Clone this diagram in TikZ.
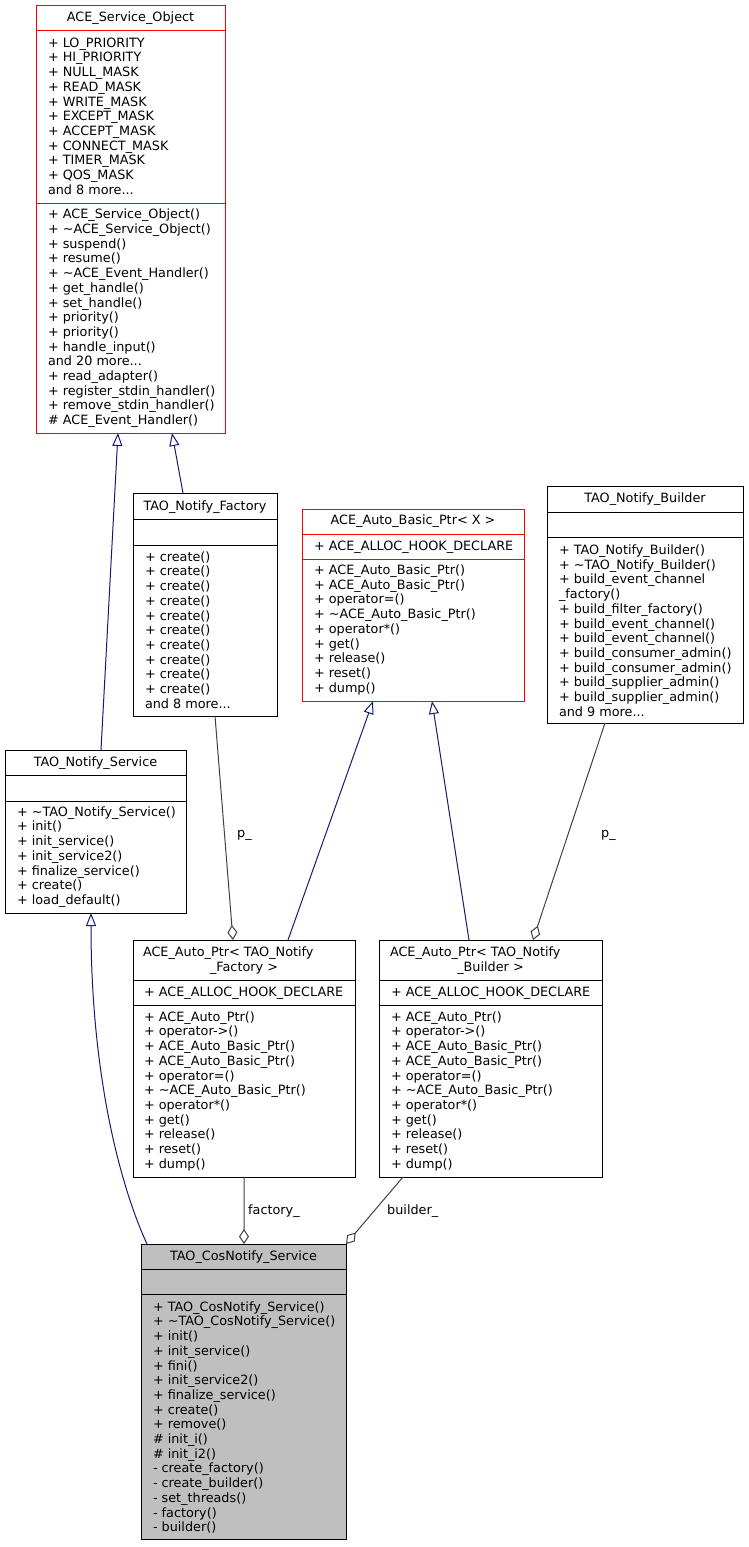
\documentclass[tikz,border=0pt]{standalone}
\usepackage{fontspec}
\setmainfont{DejaVu Sans}
\usetikzlibrary{arrows.meta,calc}
\newcommand\tld{\textasciitilde}
\newcommand\memfont{\fontsize{12.8bp}{14.7bp}\selectfont}
\newcommand\fl{\rule{0pt}{11bp}}
\definecolor{inhcol}{HTML}{191970}
\definecolor{compcol}{HTML}{404040}
\definecolor{grayfill}{HTML}{BFBFBF}
\definecolor{trunc}{HTML}{FF0000}
\tikzset{
  classbox/.style={draw=black, line width=1bp, inner sep=0pt, outer sep=0pt, anchor=north west},
  redbox/.style={classbox, draw=trunc},
  membs/.style={anchor=north west, inner sep=0pt, outer sep=0pt, align=left, font=\memfont},
  ttl/.style={anchor=base, inner sep=0pt, outer sep=0pt, font=\memfont},
  sepline/.style={line width=1bp},
  inh/.style={draw=inhcol, line width=1bp, -{Triangle[open, length=13bp, width=10bp, line width=1bp]}},
  comp/.style={draw=compcol, line width=1bp, -{Diamond[length=15bp, width=10bp, fill=white, line width=1bp]}},
  elabel/.style={anchor=base west, inner sep=0pt, font=\memfont}
}
\begin{document}
\begin{tikzpicture}[x=1bp,y=-1bp]
\useasboundingbox (0,0) rectangle (749,1547);

% ---------- ACE_Service_Object ----------
\node[redbox, minimum width=189bp, minimum height=427bp] (aso) at (36,6) {};
\draw[sepline, trunc] (36,31) -- (225,31);
\draw[sepline, trunc] (36,203) -- (225,203);
\node[ttl] (aso-t) at (130.5,22) {ACE\_Service\_Object};
\node[membs] (aso-a) at (48,36.2) {\fl + LO\_PRIORITY\\+ HI\_PRIORITY\\+ NULL\_MASK\\+ READ\_MASK\\+ WRITE\_MASK\\+ EXCEPT\_MASK\\+ ACCEPT\_MASK\\+ CONNECT\_MASK\\+ TIMER\_MASK\\+ QOS\_MASK\\and 8 more...};
\node[membs] (aso-m) at (48,207.8) {\fl + ACE\_Service\_Object()\\+ \tld ACE\_Service\_Object()\\+ suspend()\\+ resume()\\+ \tld ACE\_Event\_Handler()\\+ get\_handle()\\+ set\_handle()\\+ priority()\\+ priority()\\+ handle\_input()\\and 20 more...\\+ read\_adapter()\\+ register\_stdin\_handler()\\+ remove\_stdin\_handler()\\\# ACE\_Event\_Handler()};

% ---------- TAO_Notify_Factory ----------
\node[classbox, minimum width=144bp, minimum height=223bp] (fac) at (133,493) {};
\draw[sepline] (133,519) -- (277,519);
\draw[sepline] (133,545) -- (277,545);
\node[ttl] (fac-t) at (205,510.2) {TAO\_Notify\_Factory};
\node[membs] (fac-m) at (145,550.2) {\fl + create()\\+ create()\\+ create()\\+ create()\\+ create()\\+ create()\\+ create()\\+ create()\\+ create()\\+ create()\\and 8 more...};

% ---------- ACE_Auto_Basic_Ptr< X > ----------
\node[redbox, minimum width=222bp, minimum height=192bp] (abp) at (302,509) {};
\draw[sepline, trunc] (302,534) -- (524,534);
\draw[sepline, trunc] (302,559) -- (524,559);
\node[ttl] (abp-t) at (413,524.8) {ACE\_Auto\_Basic\_Ptr< X >};
\node[membs] (abp-a) at (314,539.2) {\fl + ACE\_ALLOC\_HOOK\_DECLARE};
\node[membs] (abp-m) at (314,563.5) {\fl + ACE\_Auto\_Basic\_Ptr()\\+ ACE\_Auto\_Basic\_Ptr()\\+ operator=()\\+ \tld ACE\_Auto\_Basic\_Ptr()\\+ operator*()\\+ get()\\+ release()\\+ reset()\\+ dump()};

% ---------- TAO_Notify_Builder ----------
\node[classbox, minimum width=196bp, minimum height=237bp] (bld) at (547,486) {};
\draw[sepline] (547,512) -- (743,512);
\draw[sepline] (547,537) -- (743,537);
\node[ttl] (bld-t) at (645,502.8) {TAO\_Notify\_Builder};
\node[membs] (bld-m) at (559,543.5) {\fl + TAO\_Notify\_Builder()\\+ \tld TAO\_Notify\_Builder()\\+ build\_event\_channel\\\_factory()\\+ build\_filter\_factory()\\+ build\_event\_channel()\\+ build\_event\_channel()\\+ build\_consumer\_admin()\\+ build\_consumer\_admin()\\+ build\_supplier\_admin()\\+ build\_supplier\_admin()\\and 9 more...};

% ---------- TAO_Notify_Service ----------
\node[classbox, minimum width=181bp, minimum height=163bp] (nsv) at (5,750) {};
\draw[sepline] (5,775) -- (186,775);
\draw[sepline] (5,801) -- (186,801);
\node[ttl] (nsv-t) at (95.5,766.2) {TAO\_Notify\_Service};
\node[membs] (nsv-m) at (17,805.2) {\fl + \tld TAO\_Notify\_Service()\\+ init()\\+ init\_service()\\+ init\_service2()\\+ finalize\_service()\\+ create()\\+ load\_default()};

% ---------- ACE_Auto_Ptr< TAO_Notify_Factory > ----------
\node[classbox, minimum width=222bp, minimum height=237bp] (ptf) at (133,940) {};
\draw[sepline] (133,980) -- (355,980);
\draw[sepline] (133,1005) -- (355,1005);
\node[ttl, anchor=base west] (ptf-t1) at (143,956.2) {ACE\_Auto\_Ptr< TAO\_Notify};
\node[ttl] (ptf-t2) at (244,971.2) {\_Factory >};
\node[membs] (ptf-a) at (144,985.2) {\fl + ACE\_ALLOC\_HOOK\_DECLARE};
\node[membs] (ptf-m) at (144,1010.2) {\fl + ACE\_Auto\_Ptr()\\+ operator->()\\+ ACE\_Auto\_Basic\_Ptr()\\+ ACE\_Auto\_Basic\_Ptr()\\+ operator=()\\+ \tld ACE\_Auto\_Basic\_Ptr()\\+ operator*()\\+ get()\\+ release()\\+ reset()\\+ dump()};

% ---------- ACE_Auto_Ptr< TAO_Notify_Builder > ----------
\node[classbox, minimum width=223bp, minimum height=237bp] (ptb) at (379,940) {};
\draw[sepline] (379,980) -- (602,980);
\draw[sepline] (379,1005) -- (602,1005);
\node[ttl, anchor=base west] (ptb-t1) at (390,956.2) {ACE\_Auto\_Ptr< TAO\_Notify};
\node[ttl] (ptb-t2) at (490.5,971.2) {\_Builder >};
\node[membs] (ptb-a) at (391,985.2) {\fl + ACE\_ALLOC\_HOOK\_DECLARE};
\node[membs] (ptb-m) at (391,1010.2) {\fl + ACE\_Auto\_Ptr()\\+ operator->()\\+ ACE\_Auto\_Basic\_Ptr()\\+ ACE\_Auto\_Basic\_Ptr()\\+ operator=()\\+ \tld ACE\_Auto\_Basic\_Ptr()\\+ operator*()\\+ get()\\+ release()\\+ reset()\\+ dump()};

% ---------- TAO_CosNotify_Service ----------
\node[classbox, fill=grayfill, minimum width=205bp, minimum height=295bp] (cos) at (141,1244) {};
\draw[sepline] (141,1269) -- (346,1269);
\draw[sepline] (141,1294) -- (346,1294);
\node[ttl] (cos-t) at (243.5,1260.2) {TAO\_CosNotify\_Service};
\node[membs] (cos-m) at (153,1300.2) {\fl + TAO\_CosNotify\_Service()\\+ \tld TAO\_CosNotify\_Service()\\+ init()\\+ init\_service()\\+ fini()\\+ init\_service2()\\+ finalize\_service()\\+ create()\\+ remove()\\\# init\_i()\\\# init\_i2()\\- create\_factory()\\- create\_builder()\\- set\_threads()\\- factory()\\- builder()};

% ---------- inheritance ----------
\draw[inh] ([xshift=5.5bp]nsv.north) -- ([xshift=-12.5bp]aso.south);
\draw[inh] ([xshift=-22bp]fac.north) -- ([xshift=41.5bp]aso.south);
\draw[inh] ([xshift=44bp]ptf.north) -- ([xshift=-40bp]abp.south);
\draw[inh] ([xshift=-21.5bp]ptb.north) -- ([xshift=19bp]abp.south);
\draw[inh] ([xshift=6bp]cos.north west) .. controls (122,1190) and (91,1080) .. ([xshift=-4.5bp]nsv.south);

% ---------- composition ----------
\draw[comp] ([xshift=10bp]fac.south) -- ([xshift=-11bp]ptf.north);
\draw[comp] ([xshift=-40bp]bld.south) -- ([xshift=42.5bp]ptb.north);
\draw[comp] (ptf.south) -- ([xshift=0.5bp]cos.north);
\draw[comp] ([xshift=-87.5bp]ptb.south) -- (cos.north east);

\node[elabel] (lp1) at (237,837) {p\_};
\node[elabel] (lp2) at (601,837) {p\_};
\node[elabel] (lfac) at (248,1214) {factory\_};
\node[elabel] (lbld) at (387,1214) {builder\_};
\end{tikzpicture}
\end{document}
